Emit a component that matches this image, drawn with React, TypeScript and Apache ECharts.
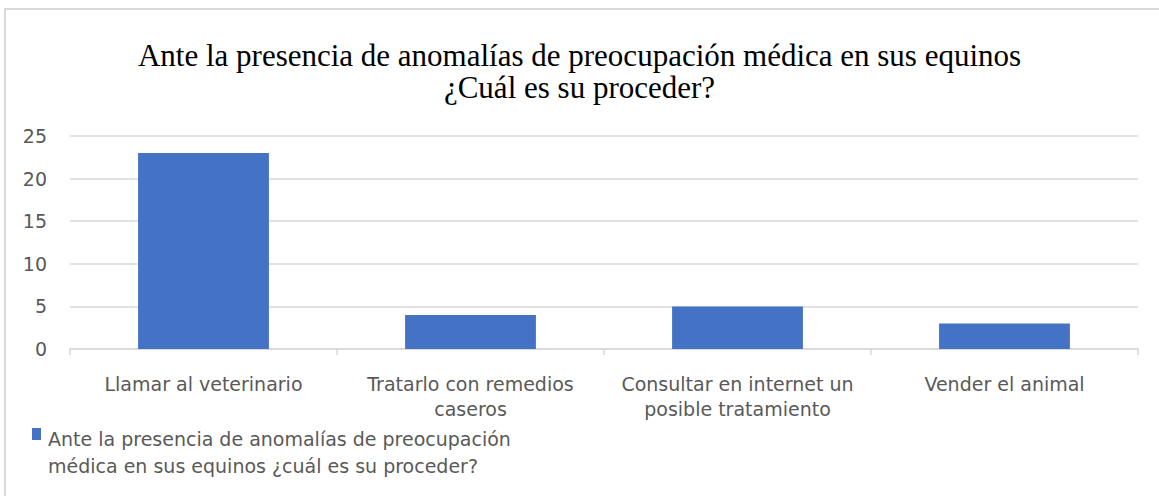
import React, { useEffect, useRef } from "react";
import * as echarts from "echarts";

const titleLines = [
  "Ante la presencia de anomalías de preocupación médica en sus equinos",
  "¿Cuál es su proceder?",
];
const categories = [
  "Llamar al veterinario",
  "Tratarlo con remedios caseros",
  "Consultar en internet un posible tratamiento",
  "Vender el animal",
];
const categoryLabels = [
  "Llamar al veterinario",
  "Tratarlo con remedios\ncaseros",
  "Consultar en internet un\nposible tratamiento",
  "Vender el animal",
];
const seriesName =
  "Ante la presencia de anomalías de preocupación médica en sus equinos ¿cuál es su proceder?";
const legendLabel =
  "Ante la presencia de anomalías de preocupación\nmédica en sus equinos ¿cuál es su proceder?";
const values = [23, 4, 5, 3];
const yTicks = { min: 0, max: 25, interval: 5 };

export default function App() {
  const ref = useRef<HTMLDivElement>(null);
  useEffect(() => {
    if (!ref.current) return;
    const chart = echarts.init(ref.current, null, { renderer: "svg" });
    const sans = "DejaVu Sans";
    chart.setOption({
      animation: false,
      backgroundColor: "#ffffff",
      title: {
        text: titleLines.join("\n"),
        left: "center",
        top: 34,
        textStyle: {
          fontFamily: "Liberation Serif",
          fontSize: 31,
          fontWeight: "normal",
          color: "#000000",
          lineHeight: 32,
        },
      },
      graphic: [
        {
          type: "rect",
          shape: { x: 5, y: 9, width: 1170, height: 500 },
          style: { fill: "none", stroke: "#d9d9d9", lineWidth: 2 },
          silent: true,
        },
      ],
      grid: { left: 70, right: 21, top: 136, bottom: 147 },
      xAxis: {
        type: "category",
        data: categories,
        axisLine: { lineStyle: { color: "#d9d9d9", width: 1.5 } },
        axisTick: { show: true, length: 6, lineStyle: { color: "#d9d9d9", width: 1.5 } },
        axisLabel: {
          interval: 0,
          margin: 22,
          color: "#595959",
          fontFamily: sans,
          fontSize: 19,
          lineHeight: 25,
          formatter: (v: string) => categoryLabels[categories.indexOf(v)],
        },
      },
      yAxis: {
        type: "value",
        min: yTicks.min,
        max: yTicks.max,
        interval: yTicks.interval,
        axisLine: { show: false },
        axisTick: { show: false },
        splitLine: { lineStyle: { color: "#d9d9d9", width: 1.5 } },
        axisLabel: { margin: 23, color: "#595959", fontFamily: sans, fontSize: 19 },
      },
      legend: {
        left: 27,
        top: 420,
        icon: "path://M0,0L0.01,0L0.01,0.01Z M0,2L9,2L9,14L0,14Z M0,51.99L0.01,51.99L0.01,52Z",
        itemWidth: 9,
        itemHeight: 52,
        itemGap: 6,
        formatter: () => legendLabel,
        textStyle: { color: "#595959", fontFamily: sans, fontSize: 19, lineHeight: 27, padding: [0, 0, 0, 2] },
      },
      series: [
        {
          name: seriesName,
          type: "bar",
          data: values,
          barWidth: "49%",
          itemStyle: { color: "#4472C4" },
        },
      ],
    });
    return () => chart.dispose();
  }, []);
  return <div ref={ref} style={{ width: 1159, height: 496, position: "absolute", left: 0, top: 0 }} />;
}
